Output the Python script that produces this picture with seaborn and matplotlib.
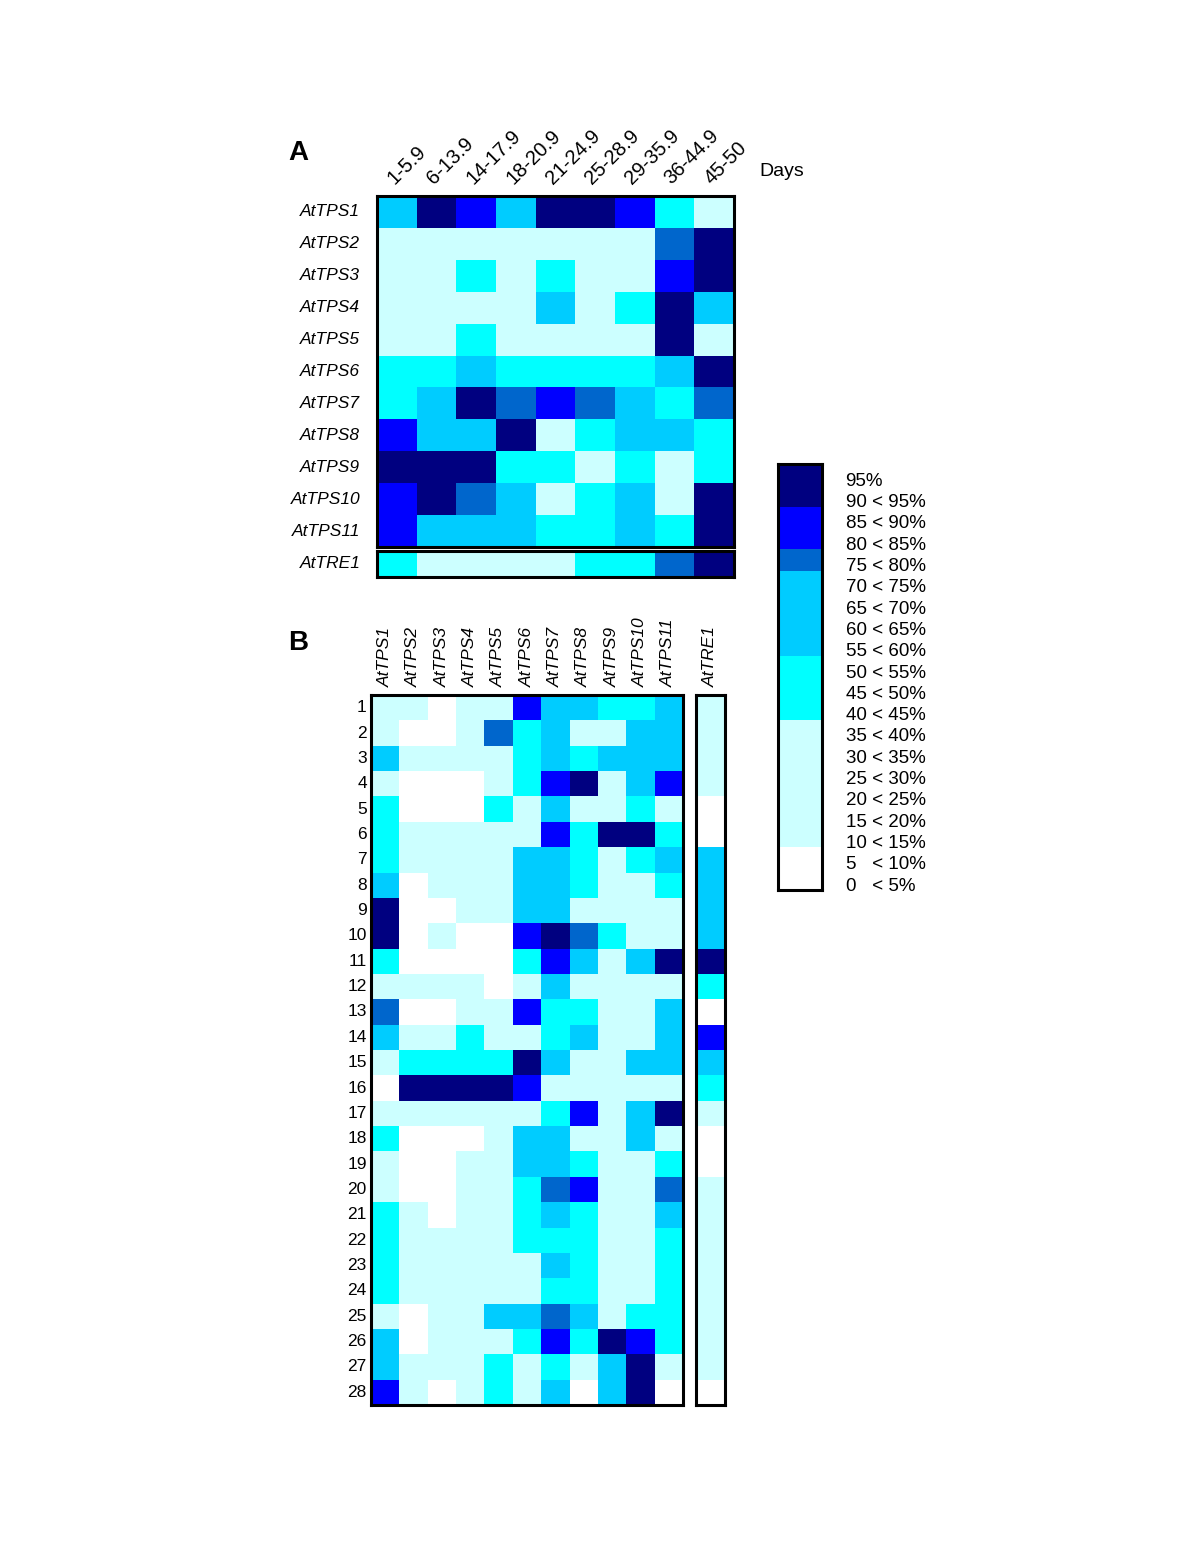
import numpy as np
import pandas as pd
import matplotlib
matplotlib.use("Agg")
import matplotlib.pyplot as plt
from matplotlib.colors import ListedColormap
import seaborn as sns

# Categories
DAY_BINS = ["1-5.9", "6-13.9", "14-17.9", "18-20.9", "21-24.9",
            "25-28.9", "29-35.9", "36-44.9", "45-50"]
TPS_GENES = ["AtTPS1", "AtTPS2", "AtTPS3", "AtTPS4", "AtTPS5", "AtTPS6",
             "AtTPS7", "AtTPS8", "AtTPS9", "AtTPS10", "AtTPS11"]
TRE_GENE = "AtTRE1"
SAMPLES = [str(i) for i in range(1, 29)]

# Expression classes: 0 <10%, 1 10-40%, 2 40-55%, 3 55-75%, 4 75-80%, 5 80-90%, 6 >=90%
LEVEL_COLORS = ["#FFFFFF", "#CCFFFF", "#00FFFF", "#00CCFF", "#0066CC", "#0000FF", "#000080"]
LEVEL_EDGES = [10, 40, 55, 75, 80, 90]

# Panel A: genes x day ranges
TPS_BY_DAY = [
    [3, 6, 5, 3, 6, 6, 5, 2, 1],
    [1, 1, 1, 1, 1, 1, 1, 4, 6],
    [1, 1, 2, 1, 2, 1, 1, 5, 6],
    [1, 1, 1, 1, 3, 1, 2, 6, 3],
    [1, 1, 2, 1, 1, 1, 1, 6, 1],
    [2, 2, 3, 2, 2, 2, 2, 3, 6],
    [2, 3, 6, 4, 5, 4, 3, 2, 4],
    [5, 3, 3, 6, 1, 2, 3, 3, 2],
    [6, 6, 6, 2, 2, 1, 2, 1, 2],
    [5, 6, 4, 3, 1, 2, 3, 1, 6],
    [5, 3, 3, 3, 2, 2, 3, 2, 6],
]
TRE_BY_DAY = [2, 1, 1, 1, 1, 2, 2, 4, 6]

# Panel B: samples x genes
TPS_BY_SAMPLE = [
    [1, 1, 0, 1, 1, 5, 3, 3, 2, 2, 3],
    [1, 0, 0, 1, 4, 2, 3, 1, 1, 3, 3],
    [3, 1, 1, 1, 1, 2, 3, 2, 3, 3, 3],
    [1, 0, 0, 0, 1, 2, 5, 6, 1, 3, 5],
    [2, 0, 0, 0, 2, 1, 3, 1, 1, 2, 1],
    [2, 1, 1, 1, 1, 1, 5, 2, 6, 6, 2],
    [2, 1, 1, 1, 1, 3, 3, 2, 1, 2, 3],
    [3, 0, 1, 1, 1, 3, 3, 2, 1, 1, 2],
    [6, 0, 0, 1, 1, 3, 3, 1, 1, 1, 1],
    [6, 0, 1, 0, 0, 5, 6, 4, 2, 1, 1],
    [2, 0, 0, 0, 0, 2, 5, 3, 1, 3, 6],
    [1, 1, 1, 1, 0, 1, 3, 1, 1, 1, 1],
    [4, 0, 0, 1, 1, 5, 2, 2, 1, 1, 3],
    [3, 1, 1, 2, 1, 1, 2, 3, 1, 1, 3],
    [1, 2, 2, 2, 2, 6, 3, 1, 1, 3, 3],
    [0, 6, 6, 6, 6, 5, 1, 1, 1, 1, 1],
    [1, 1, 1, 1, 1, 1, 2, 5, 1, 3, 6],
    [2, 0, 0, 0, 1, 3, 3, 1, 1, 3, 1],
    [1, 0, 0, 1, 1, 3, 3, 2, 1, 1, 2],
    [1, 0, 0, 1, 1, 2, 4, 5, 1, 1, 4],
    [2, 1, 0, 1, 1, 2, 3, 2, 1, 1, 3],
    [2, 1, 1, 1, 1, 2, 2, 2, 1, 1, 2],
    [2, 1, 1, 1, 1, 1, 3, 2, 1, 1, 2],
    [2, 1, 1, 1, 1, 1, 2, 2, 1, 1, 2],
    [1, 0, 1, 1, 3, 3, 4, 3, 1, 2, 2],
    [3, 0, 1, 1, 1, 2, 5, 2, 6, 5, 2],
    [3, 1, 1, 1, 2, 1, 2, 1, 3, 6, 1],
    [5, 1, 0, 1, 2, 1, 3, 0, 3, 6, 0],
]
TRE_BY_SAMPLE = [1, 1, 1, 1, 0, 0, 3, 3, 3, 3, 6, 2, 0, 5, 3, 2, 1, 0, 0,
                 1, 1, 1, 1, 1, 1, 1, 1, 0]

# Legend bins (lower edge of each 5% step)
LEGEND_BINS = [95, 90, 85, 80, 75, 70, 65, 60, 55, 50, 45, 40, 35, 30, 25, 20, 15, 10, 5, 0]
LEGEND_LABELS = ["95%", "90 < 95%", "85 < 90%", "80 < 85%", "75 < 80%", "70 < 75%",
                 "65 < 70%", "60 < 65%", "55 < 60%", "50 < 55%", "45 < 50%", "40 < 45%",
                 "35 < 40%", "30 < 35%", "25 < 30%", "20 < 25%", "15 < 20%", "10 < 15%",
                 "5   < 10%", "0   < 5%"]

sns.set_theme(style="white")
plt.rcParams["font.family"] = ["Liberation Sans", "DejaVu Sans"]
for key in ["text.color", "axes.labelcolor", "xtick.color", "ytick.color"]:
    plt.rcParams[key] = "black"

CMAP = ListedColormap(LEVEL_COLORS)
W, H = 1200, 1553
FS = 12.5


def px_axes(fig, x0, y0, x1, y1):
    """Add axes from pixel box (top-left origin)."""
    return fig.add_axes([x0 / W, 1 - y1 / H, (x1 - x0) / W, (y1 - y0) / H])


def draw_heat(ax, data, xlabels=False, ylabels=False):
    sns.heatmap(data, ax=ax, cmap=CMAP, vmin=-0.5, vmax=6.5, cbar=False,
                xticklabels=xlabels, yticklabels=ylabels, linewidths=0)
    for s in ax.spines.values():
        s.set_visible(True)
        s.set_color("black")
        s.set_linewidth(2.2)
    ax.tick_params(length=0)


fig = plt.figure(figsize=(W / 100, H / 100), dpi=100)

# Panel A
ax_a = px_axes(fig, 377, 196, 734, 547)
df_a = pd.DataFrame(TPS_BY_DAY, index=TPS_GENES, columns=DAY_BINS)
draw_heat(ax_a, df_a, xlabels=DAY_BINS, ylabels=TPS_GENES)
ax_a.xaxis.tick_top()
ax_a.set_xticklabels(DAY_BINS, rotation=45, ha="left", rotation_mode="anchor", fontsize=14.5)
ax_a.set_yticklabels(TPS_GENES, rotation=0, fontstyle="italic", fontsize=FS)
ax_a.tick_params(axis="x", pad=6, length=0)
ax_a.tick_params(axis="y", pad=12, length=0)

ax_a2 = px_axes(fig, 377, 551, 734, 577)
draw_heat(ax_a2, pd.DataFrame([TRE_BY_DAY], index=[TRE_GENE], columns=DAY_BINS),
          ylabels=[TRE_GENE])
ax_a2.set_yticklabels([TRE_GENE], rotation=0, fontstyle="italic", fontsize=FS)
ax_a2.tick_params(axis="y", pad=12, length=0)

fig.text(298 / W, 1 - 153 / H, "A", fontsize=20, fontweight="bold", ha="center", va="center")
fig.text(759 / W, 1 - 172 / H, "Days", fontsize=14, ha="left", va="center")

# Panel B
ax_b = px_axes(fig, 371, 695, 683, 1405)
df_b = pd.DataFrame(TPS_BY_SAMPLE, index=SAMPLES, columns=TPS_GENES)
draw_heat(ax_b, df_b, xlabels=TPS_GENES, ylabels=SAMPLES)
ax_b.xaxis.tick_top()
ax_b.set_xticklabels(TPS_GENES, rotation=90, ha="center", va="bottom",
                     fontstyle="italic", fontsize=FS)
ax_b.set_yticklabels(SAMPLES, rotation=0, fontsize=FS)
ax_b.tick_params(axis="x", pad=6, length=0)
ax_b.tick_params(axis="y", pad=3, length=0)

ax_b2 = px_axes(fig, 696, 695, 725, 1405)
draw_heat(ax_b2, pd.DataFrame({TRE_GENE: TRE_BY_SAMPLE}, index=SAMPLES), xlabels=[TRE_GENE])
ax_b2.xaxis.tick_top()
ax_b2.set_xticklabels([TRE_GENE], rotation=90, ha="center", va="bottom",
                      fontstyle="italic", fontsize=FS)
ax_b2.tick_params(axis="x", pad=6, length=0)

fig.text(298 / W, 1 - 643 / H, "B", fontsize=20, fontweight="bold", ha="center", va="center")

# Legend
ax_l = px_axes(fig, 778, 464, 822, 890)
legend_levels = np.digitize(LEGEND_BINS, LEVEL_EDGES)
draw_heat(ax_l, pd.DataFrame({"level": legend_levels}, index=LEGEND_LABELS))
ax_l.yaxis.tick_right()
ax_l.set_yticks(np.arange(len(LEGEND_LABELS)) + 0.72)
ax_l.set_yticklabels(LEGEND_LABELS, rotation=0, fontsize=13.5)
ax_l.tick_params(axis="y", pad=17, length=0)
ax_l.set_xticks([])

fig.savefig("out.png", dpi=100)
